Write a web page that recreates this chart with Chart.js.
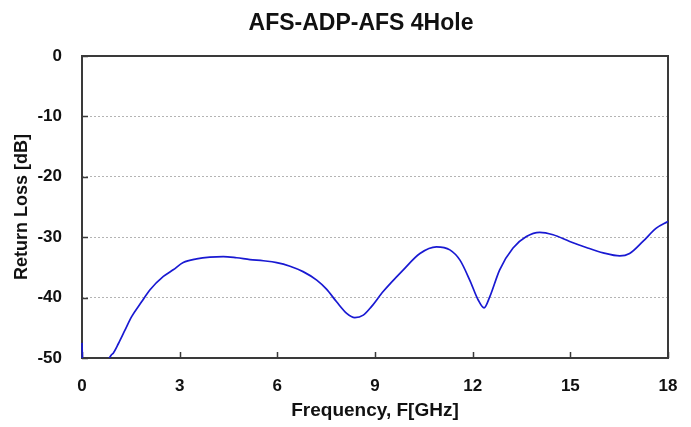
<!DOCTYPE html>
<html>
<head>
<meta charset="utf-8">
<script src="https://cdn.jsdelivr.net/npm/chart.js@4.4.0/dist/chart.umd.min.js"></script>
<style>
  html, body { margin: 0; padding: 0; background: #fff; }
  #wrap { width: 691px; height: 427px; }
</style>
</head>
<body>
<div id="wrap"><canvas id="myChart" width="691" height="427"></canvas></div>
<script>
/// Return loss sweep

const freq = [0, 0.02, 0.4, 0.8, 0.9, 0.96, 1.12, 1.32, 1.52, 1.83, 2.09, 2.5, 2.8, 3.11, 3.52, 3.93, 4.34, 4.75, 5.16, 5.57, 5.98, 6.39, 6.79, 7.21, 7.51, 7.82, 8.13, 8.38, 8.64, 8.89, 9.25, 9.87, 10.38, 10.89, 11.3, 11.61, 11.91, 12.17, 12.35, 12.53, 12.83, 13.24, 13.65, 14.06, 14.47, 14.98, 15.49, 16.01, 16.52, 16.82, 17.23, 17.64, 18.0];
const returnLoss = [-47.5, -51, -54, -50.4, -49.5, -49.2, -47.6, -45.4, -43.2, -40.7, -38.7, -36.5, -35.4, -34.2, -33.6, -33.3, -33.2, -33.4, -33.7, -33.9, -34.2, -34.8, -35.7, -37.1, -38.6, -40.7, -42.6, -43.3, -42.9, -41.5, -39.0, -35.4, -32.7, -31.6, -32.1, -33.8, -37.1, -40.4, -41.7, -39.8, -35.4, -31.8, -29.9, -29.2, -29.6, -30.7, -31.7, -32.6, -33.1, -32.7, -30.7, -28.5, -27.4];
const xTicks = [0, 3, 6, 9, 12, 15, 18];
const yTicks = [0, -10, -20, -30, -40, -50];

const points = freq.map((f, i) => ({ x: f, y: returnLoss[i] }));

const fontFam = "'Liberation Sans', Arial, sans-serif";

// box around the plot + small inward tick marks (under the curve)
const frame = {
  id: "frame",
  beforeDatasetsDraw(chart) {
    const { ctx, chartArea: a, scales } = chart;
    ctx.save();
    ctx.strokeStyle = "#3a3a3a";
    ctx.lineWidth = 1.5;
    ctx.beginPath();
    xTicks.forEach((v) => {
      const px = Math.round(scales.x.getPixelForValue(v)) + 0.5;
      ctx.moveTo(px, a.bottom);
      ctx.lineTo(px, a.bottom - 6);
    });
    yTicks.forEach((v) => {
      const py = Math.round(scales.y.getPixelForValue(v)) + 0.5;
      ctx.moveTo(a.left, py);
      ctx.lineTo(a.left + 6, py);
    });
    ctx.stroke();
    ctx.lineWidth = 2;
    ctx.strokeRect(a.left, a.top, a.right - a.left, a.bottom - a.top);
    ctx.restore();
  },
};

const config = {
  type: "line",
  data: {
    datasets: [
      {
        label: "S11",
        data: points,
        borderColor: "rgb(25, 25, 210)",
        borderWidth: 1.7,
        pointRadius: 0,
        cubicInterpolationMode: "monotone",
        clip: { left: 2, right: 2, top: 0, bottom: 0 },
      },
    ],
  },
  options: {
    responsive: false,
    animation: false,
    layout: { padding: { left: 31, right: 0, top: 0, bottom: 0 } },
    plugins: {
      legend: { display: false },
      tooltip: { enabled: false },
      title: {
        display: true,
        text: "AFS-ADP-AFS 4Hole",
        color: "#111",
        font: { family: fontFam, size: 23, weight: "bold" },
        padding: { top: 10, bottom: 18.4 },
      },
    },
    scales: {
      x: {
        type: "linear",
        min: 0,
        max: 18,
        afterFit: (s) => {
          s.height = 69;
          s.paddingLeft = 0;
          s.paddingRight = 23;
        },
        afterBuildTicks: (s) => { s.ticks = xTicks.map((v) => ({ value: v })); },
        grid: { display: false, drawTicks: false },
        border: { display: false },
        ticks: {
          padding: 18,
          color: "#111",
          font: { family: fontFam, size: 17, weight: "bold" },
        },
        title: {
          display: true,
          text: "Frequency, F[GHz]",
          color: "#111",
          font: { family: fontFam, size: 19, weight: "bold" },
          padding: { top: 0, bottom: 4.6 },
        },
      },
      y: {
        min: -50,
        max: 0,
        afterFit: (s) => { s.width = 51; },
        afterBuildTicks: (s) => { s.ticks = yTicks.map((v) => ({ value: v })); },
        grid: {
          drawTicks: false,
          color: (c) => (c.tick.value === 0 || c.tick.value === -50 ? "rgba(0,0,0,0)" : "#b4b4b4"),
          lineWidth: 1,
        },
        border: { display: false, dash: [2, 2] },
        ticks: {
          padding: 20,
          color: "#111",
          font: { family: fontFam, size: 17, weight: "bold" },
        },
        title: {
          display: true,
          text: "Return Loss [dB]",
          color: "#111",
          font: { family: fontFam, size: 18, weight: "bold" },
          padding: { top: -19.8, bottom: 0 },
        },
      },
    },
  },
  plugins: [frame],
};

var myChart = new Chart(document.getElementById("myChart"), config);
</script>
</body>
</html>
